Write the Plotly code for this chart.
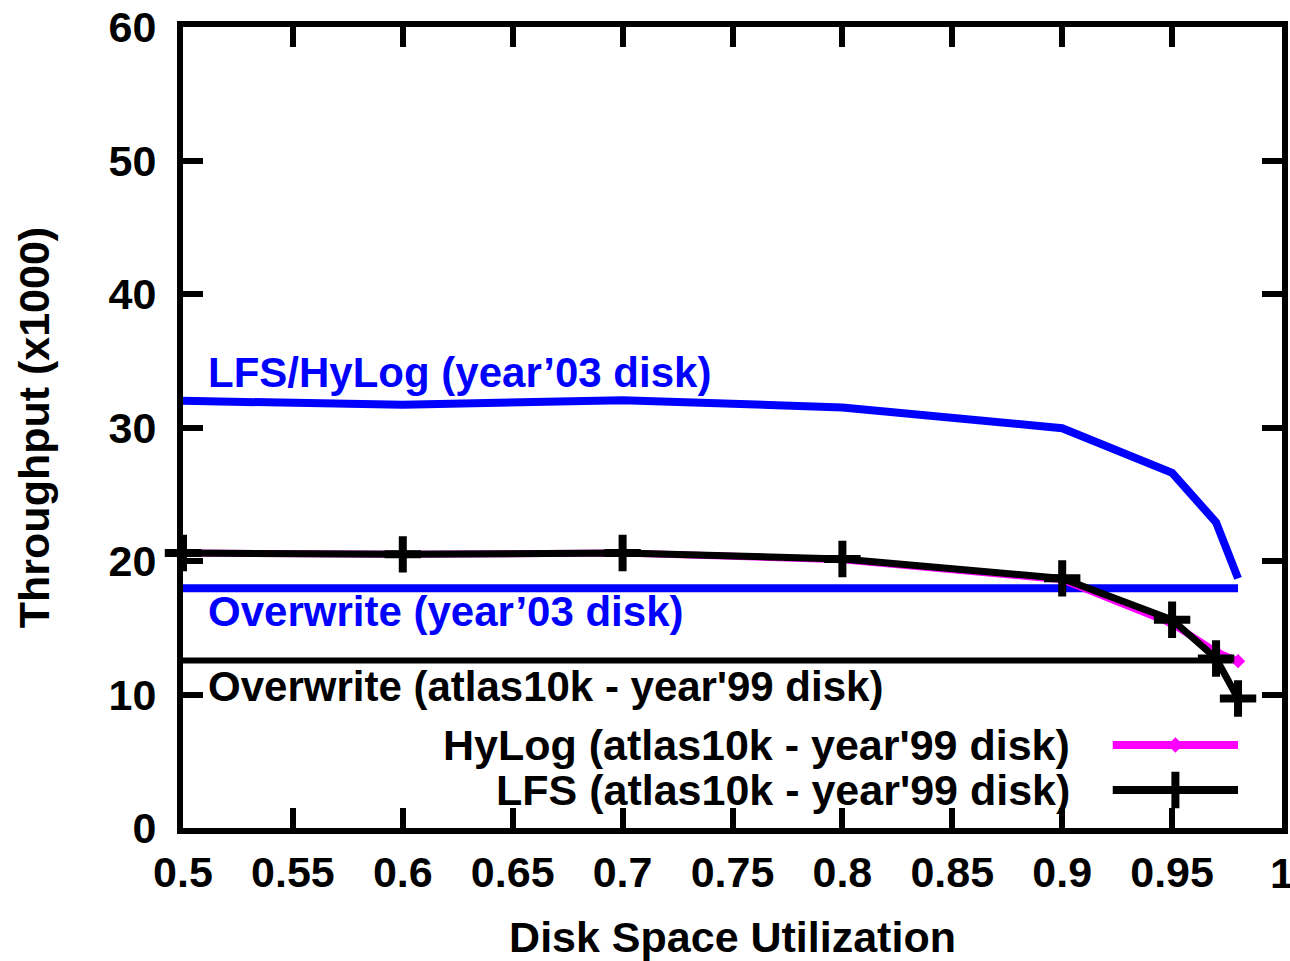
import plotly.graph_objects as go

util = [0.5, 0.6, 0.7, 0.8, 0.9, 0.95, 0.97, 0.98]
lfs_hylog_03 = [32.0, 31.7, 32.05, 31.5, 29.95, 26.6, 22.9, 18.7]
hylog_99 = [20.6, 20.5, 20.6, 20.1, 18.6, 15.3, 13.2, 12.5]
lfs_99 = [20.6, 20.5, 20.6, 20.15, 18.7, 15.6, 12.7, 9.7]
overwrite_x = [0.5, 0.98]
overwrite_03 = [17.95, 17.95]
overwrite_99 = [12.55, 12.55]

x_ticks = [0.5, 0.55, 0.6, 0.65, 0.7, 0.75, 0.8, 0.85, 0.9, 0.95, 1.0]
x_tick_text = ["0.5", "0.55", "0.6", "0.65", "0.7", "0.75", "0.8", "0.85", "0.9", "0.95", "1"]
y_ticks = [0, 10, 20, 30, 40, 50, 60]

FONT = "Liberation Sans, Arial, sans-serif"
BLUE = "#0000ff"
MAGENTA = "#ff00ff"

fig = go.Figure()

fig.add_trace(go.Scatter(x=util, y=lfs_hylog_03, mode="lines",
                         line=dict(color=BLUE, width=8), cliponaxis=False))
fig.add_trace(go.Scatter(x=overwrite_x, y=overwrite_03, mode="lines",
                         line=dict(color=BLUE, width=8), cliponaxis=False))
fig.add_trace(go.Scatter(x=overwrite_x, y=overwrite_99, mode="lines",
                         line=dict(color="black", width=6), cliponaxis=False))
fig.add_trace(go.Scatter(x=util, y=hylog_99, mode="lines+markers",
                         line=dict(color=MAGENTA, width=7),
                         marker=dict(symbol="diamond", size=11, color=MAGENTA),
                         cliponaxis=False))
fig.add_trace(go.Scatter(x=util, y=lfs_99, mode="lines+markers",
                         line=dict(color="black", width=7),
                         marker=dict(symbol="cross-thin", size=26,
                                     line=dict(color="black", width=8)),
                         cliponaxis=False))

# legend samples on an overlay axis (paper-like 0..1 range)
legend_x = [0.846, 0.96]
legend_mid = [0.903]
legend_y_hylog = 0.1036
legend_y_lfs = 0.0474
fig.add_trace(go.Scatter(x=legend_x, y=[legend_y_hylog] * 2, xaxis="x2", yaxis="y2",
                         mode="lines", line=dict(color=MAGENTA, width=8), cliponaxis=False))
fig.add_trace(go.Scatter(x=legend_mid, y=[legend_y_hylog], xaxis="x2", yaxis="y2",
                         mode="markers", marker=dict(symbol="diamond", size=12, color=MAGENTA),
                         cliponaxis=False))
fig.add_trace(go.Scatter(x=legend_x, y=[legend_y_lfs] * 2, xaxis="x2", yaxis="y2",
                         mode="lines", line=dict(color="black", width=8), cliponaxis=False))
fig.add_trace(go.Scatter(x=legend_mid, y=[legend_y_lfs], xaxis="x2", yaxis="y2",
                         mode="markers", marker=dict(symbol="cross-thin", size=26,
                                                     line=dict(color="black", width=8)),
                         cliponaxis=False))

annotations = [
    dict(x=0.5105, y=34.1, xref="x", yref="y", text="LFS/HyLog (year’03 disk)",
         font=dict(color=BLUE, size=42), xanchor="left", yanchor="middle"),
    dict(x=0.5105, y=16.2, xref="x", yref="y", text="Overwrite (year’03 disk)",
         font=dict(color=BLUE, size=42), xanchor="left", yanchor="middle"),
    dict(x=0.5105, y=10.6, xref="x", yref="y", text="Overwrite (atlas10k - year'99 disk)",
         font=dict(color="black", size=42), xanchor="left", yanchor="middle"),
    dict(x=0.809, y=legend_y_hylog, xref="paper", yref="paper",
         text="HyLog (atlas10k - year'99 disk)",
         font=dict(color="black", size=43), xanchor="right", yanchor="middle"),
    dict(x=0.809, y=legend_y_lfs, xref="paper", yref="paper",
         text="LFS (atlas10k - year'99 disk)",
         font=dict(color="black", size=43), xanchor="right", yanchor="middle"),
    # last x tick label, partly beyond the page edge as in the reference
    dict(x=x_ticks[-1], y=-0.056, xref="x", yref="paper", text=x_tick_text[-1],
         font=dict(color="black", size=43), xanchor="center", yanchor="middle"),
]
for a in annotations:
    a["showarrow"] = False
    a["font"]["family"] = FONT
    a["font"]["weight"] = "bold"

fig.update_layout(
    width=1290, height=961,
    margin=dict(l=183, r=8, t=27, b=133),
    paper_bgcolor="white", plot_bgcolor="white",
    showlegend=False,
    font=dict(family=FONT, size=42, color="black", weight="bold"),
    annotations=annotations,
    xaxis=dict(range=[0.5, 1.0], tickvals=x_ticks, ticktext=x_tick_text,
               automargin=False,
               showgrid=False, zeroline=False,
               showline=True, linewidth=6, linecolor="black", mirror="ticks",
               ticks="inside", ticklen=20, tickwidth=6, tickcolor="black",
               tickfont=dict(size=43, family=FONT, weight="bold"),
               ticklabelstandoff=1,
               title=dict(text="Disk Space Utilization", standoff=30,
                          font=dict(size=43, family=FONT, weight="bold"))),
    yaxis=dict(range=[0, 60], tickvals=y_ticks,
               automargin=False,
               showgrid=False, zeroline=False,
               showline=True, linewidth=6, linecolor="black", mirror="ticks",
               ticks="inside", ticklen=20, tickwidth=6, tickcolor="black",
               tickfont=dict(size=43, family=FONT, weight="bold"),
               ticklabelstandoff=12,
               title=dict(text="Throughput (x1000)", standoff=48,
                          font=dict(size=43, family=FONT, weight="bold"))),
    xaxis2=dict(range=[0, 1], overlaying="x", visible=False, fixedrange=True),
    yaxis2=dict(range=[0, 1], overlaying="y", visible=False, fixedrange=True),
)

fig.write_html("out.html")
